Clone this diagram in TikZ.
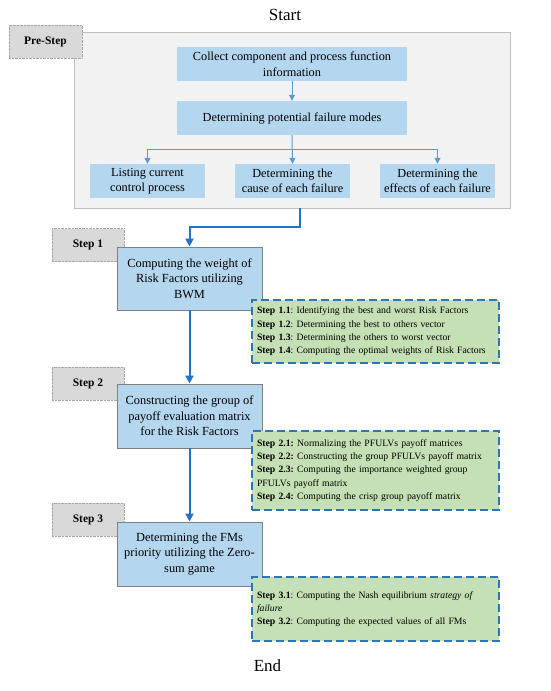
\documentclass[tikz,border=0pt]{standalone}
\usepackage{fontspec}
\setmainfont{Liberation Serif}
\usetikzlibrary{arrows.meta}
\definecolor{lblue}{HTML}{B4D7EF}
\definecolor{panelgray}{HTML}{F2F2F2}
\definecolor{panelline}{HTML}{BFBFBF}
\definecolor{labelgray}{HTML}{D9D9D9}
\definecolor{labelline}{HTML}{A6A6A6}
\definecolor{mainline}{HTML}{7F7F7F}
\definecolor{smallblue}{HTML}{5B9BD5}
\definecolor{bigblue}{HTML}{2472C8}
\definecolor{greenfill}{HTML}{C5E0B4}
\definecolor{dashblue}{HTML}{2E75B6}
\begin{document}
\begin{tikzpicture}[x=1pt,y=-1pt,
 panelbox/.style={draw=panelline, fill=panelgray, line width=1pt, inner sep=0pt, minimum width=436pt, minimum height=176pt},
 prebox/.style={fill=lblue, inner sep=0pt, align=center, minimum height=34pt, font=\fontsize{12.3}{15.5}\selectfont},
 labelbox/.style={draw=labelline, densely dotted, fill=labelgray, inner sep=0pt, minimum width=72pt, minimum height=33pt, font=\bfseries\fontsize{11.5}{14}\selectfont},
 mainbox/.style={draw=mainline, line width=0.9pt, fill=lblue, inner sep=0pt, minimum width=145pt, align=center, font=\fontsize{12.4}{15.5}\selectfont},
 notebox/.style={draw=dashblue, line width=1.4pt, dash pattern=on 8pt off 4pt, fill=greenfill, inner xsep=5pt, inner ysep=0pt, text width=237pt, align=left, font=\fontsize{9.7}{13.3}\selectfont\frenchspacing},
 smallarrow/.style={-{Triangle[width=6pt,length=6pt]}, draw=smallblue, line width=1pt},
 bigarrow/.style={-{Triangle[width=8pt,length=8pt]}, draw=bigblue, line width=2pt},
 titletext/.style={font=\fontsize{17}{20}\selectfont, inner sep=0pt},
]
\useasboundingbox (0,0) rectangle (550,691);

\node[titletext] (start) at (285,15) {Start};

\node[panelbox] (panel) at (292,120) {};
\node[labelbox, minimum width=73pt] (pre) at (45.5,41.5) {Pre-Step};

\node[prebox, minimum width=230pt] (collect) at (292,64) {Collect component and process function\\information};
\node[prebox, minimum width=230pt] (potential) at (292,118) {Determining potential failure modes};
\node[prebox, minimum width=115pt] (list) at (147.5,181) {Listing current\\control process};
\node[prebox, minimum width=115pt] (cause) at (292.5,181) {Determining the\\cause of each failure};
\node[prebox, minimum width=115pt] (effects) at (437.5,181) {Determining the\\effects of each failure};

\draw[smallarrow] (collect) -- (potential);
\coordinate (br) at (292,149);
\draw[smallarrow] (potential.south) -- (cause.north);
\draw[smallarrow] (br) -| (list.north);
\draw[smallarrow] (br) -| (effects.north);

\node[labelbox] (l1) at (88,245) {Step 1};
\node[mainbox, minimum height=63pt] (m1) at (189.5,278.5) {Computing the weight of\\Risk Factors utilizing\\BWM};
\node[notebox, minimum height=63pt] (n1) at (375.5,331.5) {\textbf{Step 1.1}: Identifying the best and worst Risk Factors\\\textbf{Step 1.2}: Determining the best to others vector\\\textbf{Step 1.3}: Determining the others to worst vector\\\textbf{Step 1.4}: Computing the optimal weights of Risk Factors};

\coordinate (tk) at (300,208);
\coordinate (bend) at (300,227);
\draw[bigarrow] (tk) -- (bend) -| (m1.north);

\node[labelbox] (l2) at (88,383.5) {Step 2};
\node[mainbox, minimum height=64pt] (m2) at (189.5,416) {Constructing the group of\\payoff evaluation matrix\\for the Risk Factors};
\node[notebox, minimum height=79pt] (n2) at (375.5,470.5) {\textbf{Step 2.1:} Normalizing the PFULVs payoff matrices\\\textbf{Step 2.2:} Constructing the group PFULVs payoff matrix\\\textbf{Step 2.3:} Computing the importance weighted group\\PFULVs payoff matrix\\\textbf{Step 2.4:} Computing the crisp group payoff matrix};

\node[labelbox] (l3) at (88,519.5) {Step 3};
\node[mainbox, minimum height=64pt] (m3) at (189.5,554) {Determining the FMs\\priority utilizing the Zero-\\sum game};
\node[notebox, minimum height=64pt] (n3) at (375.5,609) {\textbf{Step 3.1}: Computing the Nash equilibrium \textit{strategy of}\\\textit{failure}\\\textbf{Step 3.2}: Computing the expected values of all FMs};

\draw[bigarrow] (m1.south) -- (m2.north);
\draw[bigarrow] (m2.south) -- (m3.north);

\node[titletext] (end) at (267.5,666) {End};
\end{tikzpicture}
\end{document}
